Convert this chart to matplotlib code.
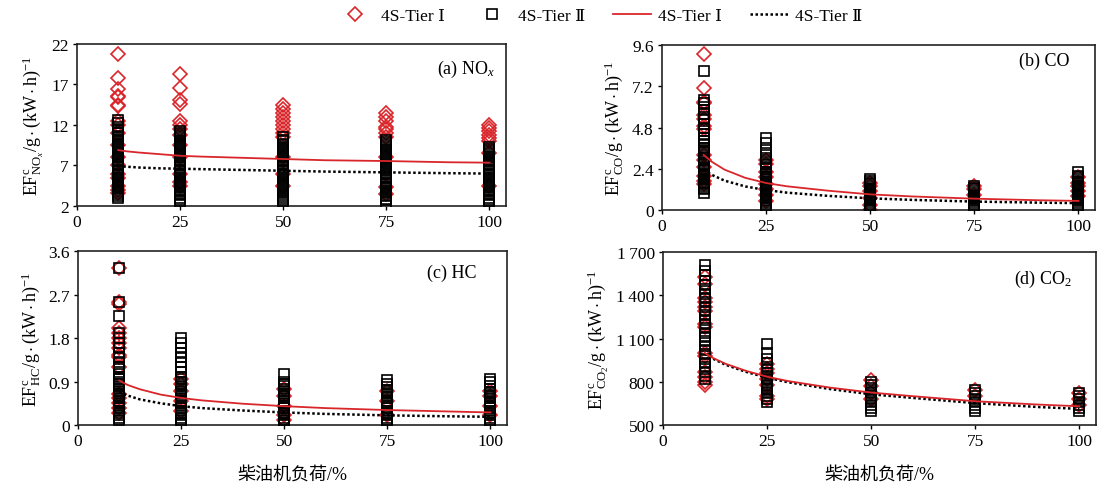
import matplotlib
matplotlib.use("Agg")
import matplotlib.pyplot as plt
from matplotlib.lines import Line2D

plt.rcParams['font.family'] = ['Liberation Serif', 'DejaVu Serif', 'Noto Sans CJK SC', 'DejaVu Sans']
plt.rcParams['mathtext.fontset'] = 'custom'
plt.rcParams['mathtext.rm'] = 'Liberation Serif'
plt.rcParams['mathtext.it'] = 'Liberation Serif:italic'
plt.rcParams['mathtext.bf'] = 'Liberation Serif:bold'

loads = [10, 25, 50, 75, 100]
curve_x = [10, 12, 15, 20, 25, 30, 40, 50, 60, 75, 90, 100]

# ---------------- (a) NOx ----------------
nox_t1 = {
    10: [20.8, 17.8, 16.5, 15.6, 15.5, 14.5, 14.3, 12.5, 12.0, 11.0, 9.5, 8.0, 7.0, 6.0, 5.5, 4.5, 4.0, 3.6],
    25: [18.3, 16.6, 15.1, 14.6, 12.5, 12.0, 11.5, 10.8, 9.5, 8.0, 6.0, 5.0, 4.5],
    50: [14.5, 14.0, 13.5, 13.0, 12.5, 12.0, 11.5, 11.0, 10.5, 8.0, 6.0, 4.5],
    75: [13.5, 13.0, 12.5, 11.8, 11.5, 11.0, 10.5, 8.0, 4.3, 3.5],
    100: [12.0, 11.6, 11.2, 10.8, 10.4, 10.0, 8.5, 4.5],
}
nox_t2 = {
    10: [12.6, 12.2, 11.8, 11.5, 11.2, 11.0, 10.7, 10.5, 10.2, 10.0, 9.7, 9.5, 9.2, 9.0, 8.7, 8.5, 8.2, 8.0,
         7.7, 7.5, 7.2, 7.0, 6.7, 6.5, 6.2, 6.0, 5.7, 5.5, 5.2, 5.0, 4.7, 4.5, 4.2, 4.0, 3.7, 3.5, 3.2, 3.0],
    25: [11.2, 11.0, 10.8, 10.5, 10.3, 10.0, 9.8, 9.5, 9.3, 9.0, 8.8, 8.5, 8.3, 8.0, 7.8, 7.5, 7.3, 7.0,
         6.8, 6.5, 6.3, 6.0, 5.8, 5.5, 5.3, 5.0, 4.8, 4.5, 4.3, 4.0, 3.8, 3.5, 3.3, 3.0, 2.8, 2.5, 2.3],
    50: [10.5, 10.2, 10.0, 9.7, 9.5, 9.2, 9.0, 8.7, 8.5, 8.2, 8.0, 7.7, 7.5, 7.2, 7.0, 6.7, 6.5, 6.2, 6.0,
         5.7, 5.5, 5.2, 5.0, 4.7, 4.5, 4.2, 4.0, 3.7, 3.5, 3.2, 3.0, 2.7, 2.5],
    75: [10.2, 9.9, 9.7, 9.4, 9.2, 8.9, 8.7, 8.4, 8.2, 7.9, 7.7, 7.4, 7.2, 6.9, 6.7, 6.4, 6.2, 5.9, 5.7,
         5.4, 5.2, 4.9, 4.7, 4.4, 4.2, 3.9, 3.7, 3.4, 3.2, 2.9, 2.7, 2.4],
    100: [9.3, 9.0, 8.8, 8.5, 8.3, 8.0, 7.8, 7.5, 7.3, 7.0, 6.8, 6.5, 6.3, 6.0, 5.8, 5.5, 5.3, 5.0,
          4.8, 4.5, 4.3, 4.0, 3.8, 3.5, 3.3, 3.0, 2.8, 2.5, 2.3],
}
nox_fit_t1 = [8.9, 8.75, 8.6, 8.4, 8.2, 8.1, 7.95, 7.8, 7.65, 7.55, 7.4, 7.35]
nox_fit_t2 = [6.9, 6.85, 6.75, 6.65, 6.6, 6.55, 6.45, 6.35, 6.25, 6.15, 6.05, 6.0]

# ---------------- (b) CO ----------------
co_t1 = {
    10: [9.1, 7.1, 6.3, 6.2, 5.5, 5.3, 4.9, 4.7, 3.2, 2.9, 2.5, 2.0, 1.7, 1.5],
    25: [2.9, 2.7, 2.2, 1.9, 1.5, 1.2, 0.9, 0.5],
    50: [1.6, 1.4, 1.1, 0.7, 0.3, 0.0],
    75: [1.4, 1.2, 0.9],
    100: [1.9, 1.6, 1.4, 1.1, 0.8],
}
co_t2 = {
    10: [8.1, 6.4, 6.2, 6.0, 5.8, 5.6, 5.3, 5.0, 4.8, 4.6, 4.4, 4.2, 4.0, 3.8, 3.6, 3.5, 3.4, 3.3, 3.1, 3.0,
         2.9, 2.7, 2.6, 2.4, 2.3, 2.2, 2.1, 2.0, 1.9, 1.8, 1.7, 1.6, 1.5, 1.4, 1.3, 1.2, 1.0],
    25: [4.2, 3.9, 3.5, 3.2, 3.0, 2.8, 2.7, 2.5, 2.4, 2.2, 2.1, 2.0, 1.9, 1.8, 1.7, 1.6, 1.5, 1.4, 1.3, 1.2,
         1.1, 1.0, 0.9, 0.8, 0.7, 0.6, 0.5, 0.4, 0.3, 0.2, 0.1],
    50: [1.8, 1.7, 1.6, 1.5, 1.4, 1.3, 1.2, 1.1, 1.0, 0.9, 0.8, 0.7, 0.6, 0.5, 0.4, 0.3, 0.2, 0.1, 0.05],
    75: [1.4, 1.3, 1.2, 1.1, 1.0, 0.9, 0.8, 0.7, 0.6, 0.5, 0.4, 0.3, 0.2, 0.1, 0.05],
    100: [2.2, 2.0, 1.9, 1.8, 1.7, 1.6, 1.5, 1.4, 1.3, 1.2, 1.1, 1.0, 0.9, 0.8, 0.7, 0.6, 0.5, 0.4, 0.3,
          0.2, 0.1, 0.05],
}
co_fit_t1 = [3.2, 2.8, 2.35, 1.87, 1.57, 1.38, 1.12, 0.91, 0.79, 0.66, 0.57, 0.53]
co_fit_t2 = [2.33, 2.04, 1.71, 1.37, 1.16, 1.01, 0.82, 0.68, 0.59, 0.49, 0.43, 0.40]

# ---------------- (c) HC ----------------
hc_t1 = {
    10: [3.25, 2.55, 2.5, 2.0, 1.9, 1.8, 1.7, 1.6, 1.45, 1.4, 1.2, 0.65, 0.55, 0.45, 0.35, 0.25],
    25: [0.95, 0.85, 0.7, 0.5, 0.3],
    50: [0.75, 0.6, 0.4, 0.2, 0.1],
    75: [0.7, 0.5, 0.2],
    100: [0.7, 0.6, 0.4, 0.2],
}
hc_t2 = {
    10: [3.25, 2.55, 2.25, 1.9, 1.8, 1.7, 1.6, 1.5, 1.4, 1.3, 1.2, 1.15, 1.05, 1.0, 0.95, 0.9, 0.85, 0.8,
         0.75, 0.7, 0.65, 0.6, 0.55, 0.5, 0.45, 0.4, 0.35, 0.3, 0.25, 0.2, 0.15, 0.1],
    25: [1.8, 1.7, 1.6, 1.5, 1.4, 1.3, 1.2, 1.1, 1.0, 0.95, 0.9, 0.85, 0.8, 0.75, 0.7, 0.65, 0.6, 0.55, 0.5,
         0.45, 0.4, 0.35, 0.3, 0.25, 0.2, 0.15, 0.1, 0.05, 0.02],
    50: [1.06, 0.9, 0.85, 0.8, 0.75, 0.7, 0.65, 0.6, 0.55, 0.5, 0.45, 0.4, 0.35, 0.3, 0.25, 0.2, 0.15, 0.1,
         0.05, 0.02],
    75: [0.93, 0.85, 0.78, 0.72, 0.68, 0.64, 0.6, 0.55, 0.5, 0.45, 0.4, 0.35, 0.3, 0.25, 0.2, 0.15, 0.1,
         0.05, 0.02],
    100: [0.95, 0.88, 0.8, 0.74, 0.68, 0.64, 0.6, 0.55, 0.5, 0.45, 0.4, 0.35, 0.3, 0.25, 0.2, 0.15, 0.1,
          0.05, 0.02],
}
hc_fit_t1 = [0.92, 0.83, 0.74, 0.63, 0.56, 0.51, 0.44, 0.39, 0.35, 0.31, 0.28, 0.26]
hc_fit_t2 = [0.68, 0.61, 0.53, 0.45, 0.39, 0.35, 0.30, 0.26, 0.23, 0.20, 0.18, 0.17]

# ---------------- (d) CO2 ----------------
co2_t1 = {
    10: [1530, 1480, 1380, 1350, 1320, 1290, 1200, 1180, 1000, 980, 870, 830, 800, 780],
    25: [920, 890, 860, 820, 780, 700, 680],
    50: [810, 770, 720, 680],
    75: [740, 700],
    100: [720, 680, 640],
}
co2_t2 = {
    10: [1610, 1570, 1540, 1500, 1470, 1440, 1410, 1380, 1350, 1320, 1290, 1260, 1230, 1200, 1170, 1140,
         1110, 1080, 1050, 1020, 990, 960, 930, 900, 870, 840, 820],
    25: [1060, 1000, 960, 930, 900, 880, 860, 840, 820, 800, 780, 760, 740, 720, 700, 680, 660],
    50: [800, 780, 760, 740, 720, 700, 680, 660, 640, 620, 600],
    75: [740, 720, 700, 680, 660, 640, 620, 600],
    100: [720, 700, 680, 660, 640, 620, 600],
}
co2_fit_t1 = [1000, 965, 925, 875, 835, 805, 760, 725, 700, 665, 642, 630]
co2_fit_t2 = [995, 960, 918, 868, 828, 797, 750, 713, 688, 652, 625, 612]

panels = [
    dict(rect=[0.0701, 0.5767, 0.3903, 0.3313], t1=nox_t1, t2=nox_t2, f1=nox_fit_t1, f2=nox_fit_t2,
         ylim=(2, 22), yticks=[2, 7, 12, 17, 22], ylabels=['2', '7', '12', '17', '22'],
         title=r'(a) NO$_{\mathit{x}}$', tpos=(0.975, 0.85),
         ylabel=r'$\mathrm{EF}^{\mathrm{c}}_{\mathrm{NO}_{\mathit{x}}}/\mathrm{g}\cdot(\mathrm{kW}\cdot\mathrm{h})^{-1}$'),
    dict(rect=[0.6024, 0.5685, 0.394, 0.3374], t1=co_t1, t2=co_t2, f1=co_fit_t1, f2=co_fit_t2,
         ylim=(0, 9.6), yticks=[0, 2.4, 4.8, 7.2, 9.6], ylabels=['0', '2.4', '4.8', '7.2', '9.6'],
         title='(b) CO', tpos=(0.94, 0.91),
         ylabel=r'$\mathrm{EF}^{\mathrm{c}}_{\mathrm{CO}}/\mathrm{g}\cdot(\mathrm{kW}\cdot\mathrm{h})^{-1}$'),
    dict(rect=[0.0710, 0.1288, 0.3903, 0.3558], t1=hc_t1, t2=hc_t2, f1=hc_fit_t1, f2=hc_fit_t2,
         ylim=(0, 3.6), yticks=[0, 0.9, 1.8, 2.7, 3.6], ylabels=['0', '0.9', '1.8', '2.7', '3.6'],
         title='(c) HC', tpos=(0.93, 0.88),
         ylabel=r'$\mathrm{EF}^{\mathrm{c}}_{\mathrm{HC}}/\mathrm{g}\cdot(\mathrm{kW}\cdot\mathrm{h})^{-1}$'),
    dict(rect=[0.6033, 0.1288, 0.394, 0.3538], t1=co2_t1, t2=co2_t2, f1=co2_fit_t1, f2=co2_fit_t2,
         ylim=(500, 1700), yticks=[500, 800, 1100, 1400, 1700],
         ylabels=['500', '800', '1\u2009100', '1\u2009400', '1\u2009700'],
         title=r'(d) CO$_{2}$', tpos=(0.945, 0.85),
         ylabel=r'$\mathrm{EF}^{\mathrm{c}}_{\mathrm{CO}_{2}}/\mathrm{g}\cdot(\mathrm{kW}\cdot\mathrm{h})^{-1}$'),
]

RED = '#d9262b'
fig = plt.figure(figsize=(10.99, 4.89), dpi=100)

for i, p in enumerate(panels):
    ax = fig.add_axes(p['rect'])
    for x in loads:
        ax.plot([x] * len(p['t1'][x]), p['t1'][x], linestyle='none', marker='D', ms=7,
                mfc='none', mec=RED, mew=1.2, zorder=2)
    for x in loads:
        ax.plot([x] * len(p['t2'][x]), p['t2'][x], linestyle='none', marker='s', ms=7.5,
                mfc='none', mec='black', mew=1.2, zorder=3)
    ax.plot(curve_x, p['f1'], color=RED, lw=1.3, zorder=5)
    ax.plot(curve_x, p['f2'], color='black', lw=1.8, linestyle=(0, (1, 1)), zorder=4)
    ax.set_xlim(0, 104)
    ax.set_ylim(*p['ylim'])
    ax.set_xticks([0, 25, 50, 75, 100])
    ax.set_yticks(p['yticks'])
    ax.set_yticklabels(p['ylabels'])
    ax.tick_params(direction='out', length=3, width=1, labelsize=12.5, pad=3)
    for s in ax.spines.values():
        s.set_linewidth(1.2)
        s.set_color('#222222')
    ax.text(p['tpos'][0], p['tpos'][1], p['title'], transform=ax.transAxes, ha='right', va='center',
            fontsize=13)
    ax.set_ylabel(p['ylabel'], fontsize=13, labelpad=4)
    if i >= 2:
        ax.set_xlabel('柴油机负荷/%', fontsize=13, labelpad=12)

handles = [
    Line2D([], [], linestyle='none', marker='D', ms=7, mfc='none', mec=RED, mew=1.2),
    Line2D([], [], linestyle='none', marker='s', ms=7.5, mfc='none', mec='black', mew=1.2),
    Line2D([], [], color=RED, lw=1.3),
    Line2D([], [], color='black', lw=1.8, linestyle=(0, (1, 1))),
]
labels = ['4S-Tier Ⅰ', '4S-Tier Ⅱ', '4S-Tier Ⅰ', '4S-Tier Ⅱ']
fig.legend(handles, labels, loc='center', bbox_to_anchor=(0.545, 0.965), ncol=4, frameon=False,
           fontsize=12.5, handlelength=2.2, columnspacing=1.6, handletextpad=0.4)

fig.savefig('out.png', dpi=100)
